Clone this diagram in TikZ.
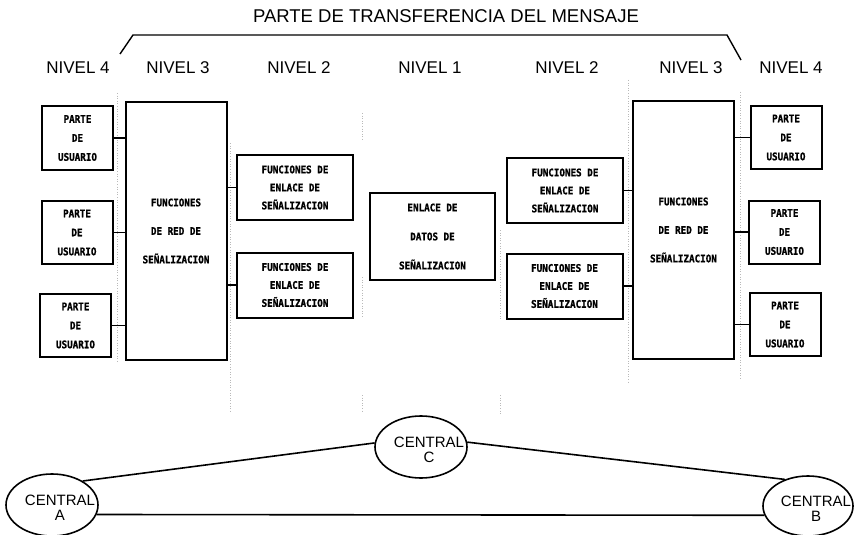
\documentclass[tikz,border=0pt]{standalone}
\usepackage{fontspec}
\setmainfont{Liberation Sans}
\newfontfamily\boxfont{DejaVu Sans Mono}[FakeStretch=0.88,FakeBold=1.2]
\usetikzlibrary{shapes.geometric}
\tikzset{
    caja/.style={draw,line width=2pt,align=center,inner sep=0pt},
    usuario/.style={caja,minimum width=71pt,minimum height=63pt,font=\boxfont\bfseries\fontsize{10.5}{19}\selectfont},
    enlace/.style={caja,minimum width=116pt,minimum height=65pt,font=\boxfont\bfseries\fontsize{10.5}{18}\selectfont},
    red/.style={caja,minimum width=101pt,minimum height=257pt,font=\boxfont\bfseries\fontsize{10.5}{28.5}\selectfont},
    datos/.style={caja,minimum width=125pt,minimum height=87pt,font=\boxfont\bfseries\fontsize{10.5}{29}\selectfont},
    nivel/.style={font=\fontsize{17}{20}\selectfont},
    central/.style={draw,ellipse,line width=1.6pt,minimum width=92pt,minimum height=62pt,inner sep=0pt},
    centxt/.style={align=center,font=\fontsize{15}{15}\selectfont},
    enlaza/.style={line width=1.6pt},
    guia/.style={gray!55,dotted,line width=0.6pt}
}
\begin{document}
\begin{tikzpicture}[x=1pt,y=-1pt]
    \useasboundingbox (0,0) rectangle (855,535);
    % lineas guia entre niveles
    \draw[guia] (117,93)--(117,362);
    \draw[guia] (230,143)--(230,413);
    \draw[guia] (362,113)--(362,140);
    \draw[guia] (362,277)--(362,317);
    \draw[guia] (362,395)--(362,413);
    \draw[guia] (500,230)--(500,320);
    \draw[guia] (500,395)--(500,415);
    \draw[guia] (628,80)--(628,383);
    \draw[guia] (740,92)--(740,380);

    % titulo y llave
    \node (titulo) at (446,16) {\fontsize{18.5}{22}\selectfont PARTE DE TRANSFERENCIA DEL MENSAJE};
    \draw[line width=1.4pt] (120,54)--(133,35)--(727,35)--(741,60);

    % niveles
    \node[nivel] (n4a) at (78,68) {NIVEL 4};
    \node[nivel] (n3a) at (178,68) {NIVEL 3};
    \node[nivel] (n2a) at (299,68) {NIVEL 2};
    \node[nivel] (n1) at (430,68) {NIVEL 1};
    \node[nivel] (n2b) at (567,68) {NIVEL 2};
    \node[nivel] (n3b) at (691,68) {NIVEL 3};
    \node[nivel] (n4b) at (791,68) {NIVEL 4};

    % lado izquierdo
    \node[usuario] (uA1) at (77.5,138) {PARTE\\DE\\USUARIO};
    \node[usuario] (uA2) at (77,232.5) {PARTE\\DE\\USUARIO};
    \node[usuario] (uA3) at (75.5,325.5) {PARTE\\DE\\USUARIO};
    \node[red] (redA) at (176,231) {FUNCIONES\\DE RED DE\\SEÑALIZACION};
    \node[enlace] (enlA1) at (295,187.5) {FUNCIONES DE\\ENLACE DE\\SEÑALIZACION};
    \node[enlace] (enlA2) at (295,285) {FUNCIONES DE\\ENLACE DE\\SEÑALIZACION};
    \draw[enlaza] (uA1.east)--(uA1.east -| redA.west);
    \draw[enlaza] (uA2.east)--(uA2.east -| redA.west);
    \draw[enlaza] (uA3.east)--(uA3.east -| redA.west);
    \draw[enlaza] (enlA1.west)--(enlA1.west -| redA.east);
    \draw[enlaza] (enlA2.west)--(enlA2.west -| redA.east);

    % centro
    \node[datos] (dat) at (432.5,236.5) {ENLACE DE\\DATOS DE\\SEÑALIZACION};

    % lado derecho
    \node[enlace] (enlB1) at (565,190.5) {FUNCIONES DE\\ENLACE DE\\SEÑALIZACION};
    \node[enlace] (enlB2) at (564.5,286) {FUNCIONES DE\\ENLACE DE\\SEÑALIZACION};
    \node[red] (redB) at (683.5,230) {FUNCIONES\\DE RED DE\\SEÑALIZACION};
    \node[usuario] (uB1) at (786,137.5) {PARTE\\DE\\USUARIO};
    \node[usuario] (uB2) at (784.5,232) {PARTE\\DE\\USUARIO};
    \node[usuario] (uB3) at (785,324.5) {PARTE\\DE\\USUARIO};
    \draw[enlaza] (enlB1.east)--(enlB1.east -| redB.west);
    \draw[enlaza] (enlB2.east)--(enlB2.east -| redB.west);
    \draw[enlaza] (uB1.west)--(uB1.west -| redB.east);
    \draw[enlaza] (uB2.west)--(uB2.west -| redB.east);
    \draw[enlaza] (uB3.west)--(uB3.west -| redB.east);

    % centrales
    \node[central] (cC) at (421,447) {};
    \node[central] (cA) at (52,505) {};
    \node[central,minimum width=90pt,minimum height=60pt] (cB) at (808,506) {};
    \node[centxt] (tC) at ([xshift=8pt,yshift=-3pt]cC.center) {CENTRAL\\C};
    \node[centxt] (tA) at ([xshift=8pt,yshift=-3pt]cA.center) {CENTRAL\\A};
    \node[centxt] (tB) at ([xshift=8pt,yshift=-3pt]cB.center) {CENTRAL\\B};
    \draw[enlaza] (cA.38)--(cC.175);
    \draw[enlaza] (cC.6)--(cB.131);
    \draw[enlaza] (cA.-12)--(cB.192);
\end{tikzpicture}
\end{document}
